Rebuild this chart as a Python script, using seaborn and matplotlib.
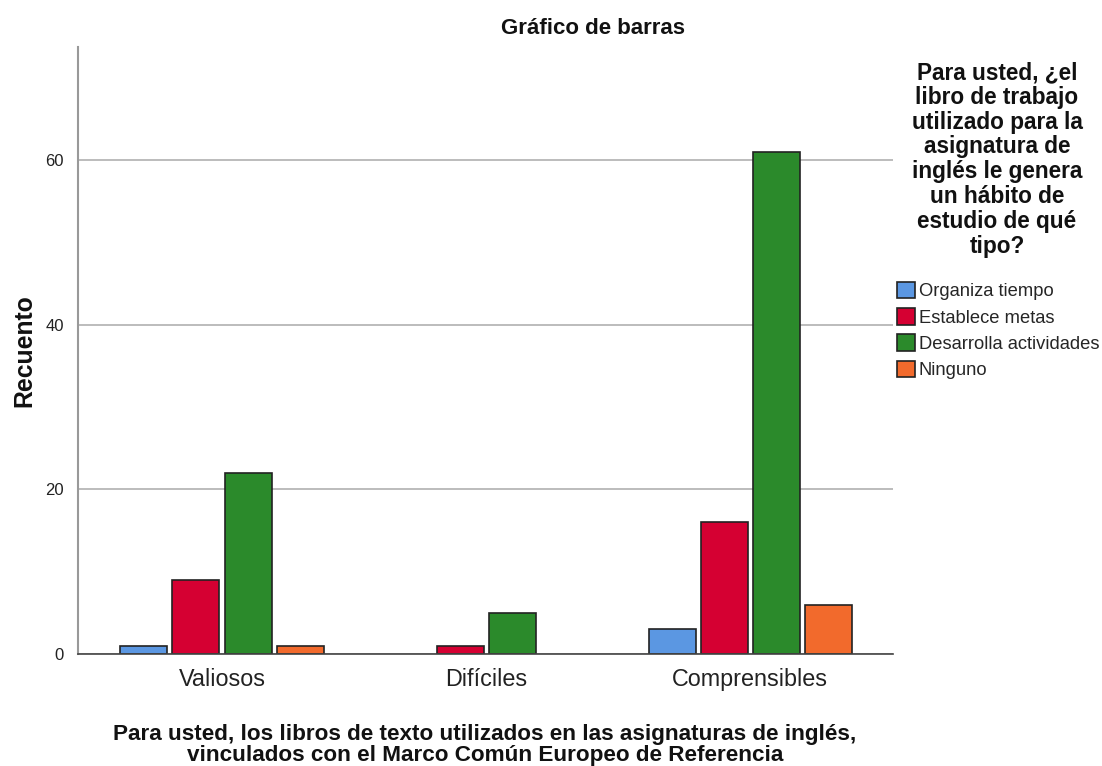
import numpy as np
import pandas as pd
import matplotlib
matplotlib.use("Agg")
import matplotlib.pyplot as plt
from matplotlib.patches import Patch
import seaborn as sns

categorias = ["Valiosos", "Difíciles", "Comprensibles"]
habitos = ["Organiza tiempo", "Establece metas", "Desarrolla actividades", "Ninguno"]
organiza = [1, 0, 3]
metas = [9, 1, 16]
desarrolla = [22, 5, 61]
ninguno = [1, 0, 6]
colores = ["#5B97E2", "#D50032", "#2B8A2B", "#F26A2C"]

df = pd.DataFrame({
    "cat": categorias * 4,
    "habito": np.repeat(habitos, 3),
    "n": organiza + metas + desarrolla + ninguno,
})

sns.set_style("white")
plt.rcParams["font.family"] = ["Liberation Sans", "DejaVu Sans"]

W, H = 1102, 766
fig = plt.figure(figsize=(W / 100, H / 100), dpi=100)
ax = fig.add_axes([78 / W, 1 - 654 / H, 815 / W, 607 / H])

sns.barplot(data=df, x="cat", y="n", hue="habito", order=categorias,
            hue_order=habitos, palette=dict(zip(habitos, colores)),
            width=0.79, gap=0.1, edgecolor="#222222", linewidth=1.2,
            saturation=1, ax=ax)

# barras con valor 0 no se dibujan
for p in ax.patches:
    if p.get_height() == 0:
        p.set_linewidth(0)

ax.set_xlim(-0.545, 2.54)
ax.set_ylim(0, 73.7)
ax.set_yticks([0, 20, 40, 60])
ax.yaxis.grid(True, color="#b0b0b0", linewidth=1.2)
ax.set_axisbelow(True)
for s in ["top", "right"]:
    ax.spines[s].set_visible(False)
ax.spines["left"].set_color("#999999")
ax.spines["left"].set_linewidth(1.5)
ax.spines["bottom"].set_color("#444444")
ax.spines["bottom"].set_linewidth(1.2)
ax.tick_params(axis="y", labelsize=12, length=0, pad=10, labelcolor="#222222")
ax.tick_params(axis="x", labelsize=16.8, length=0, pad=10, labelcolor="#222222")

ax.set_xlabel("")
ax.set_ylabel("Recuento", fontsize=17.8, fontweight="bold", color="#111111")
ax.yaxis.set_label_coords(-42 / 815, 0.5)
fig.text(485 / W, 1 - 745 / H,
         "Para usted, los libros de texto utilizados en las asignaturas de inglés,\n"
         "vinculados con el Marco Común Europeo de Referencia",
         ha="center", va="center", fontsize=16.2, fontweight="bold",
         linespacing=0.95, color="#111111")
fig.text(593 / W, 1 - 28 / H, "Gráfico de barras", ha="center", va="center",
         fontsize=16, fontweight="bold", color="#111111")

ax.get_legend().remove()
fig.text(997 / W, 1 - 61 / H,
         "Para usted, ¿el\nlibro de trabajo\nutilizado para la\nasignatura de\n"
         "inglés le genera\nun hábito de\nestudio de qué\ntipo?",
         ha="center", va="top", fontsize=16.3, fontweight="bold",
         linespacing=1.1, color="#111111")
handles = [Patch(facecolor=c, edgecolor="#222222", linewidth=1.2) for c in colores]
fig.legend(handles, habitos, loc="upper left",
           bbox_to_anchor=(897 / W, 1 - 282 / H), frameon=False,
           fontsize=13.2, handlelength=1.0, handleheight=1.0,
           handletextpad=0.2, labelspacing=0.42, borderaxespad=0, borderpad=0)

fig.savefig("out.png", dpi=100)
